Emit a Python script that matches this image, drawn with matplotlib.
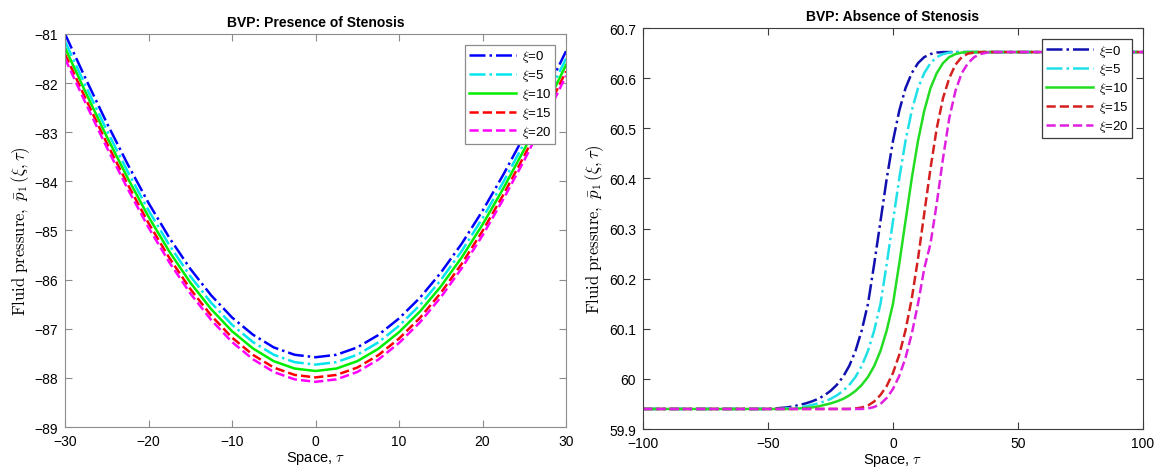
import matplotlib
matplotlib.use("Agg")
import matplotlib.pyplot as plt
from matplotlib.ticker import FormatStrFormatter, MultipleLocator

plt.rcParams["font.family"] = ["Liberation Sans", "DejaVu Sans"]
plt.rcParams["mathtext.fontset"] = "cm"

# left panel: presence of stenosis
tau_left = [-30, -27.5, -25, -22.5, -20, -17.5, -15, -12.5, -10, -7.5, -5, -2.5, 0,
            2.5, 5, 7.5, 10, 12.5, 15, 17.5, 20, 22.5, 25, 27.5, 30]
p_xi0 = [-81.00, -81.92, -82.81, -83.65, -84.44, -85.15, -85.78, -86.32, -86.77, -87.12, -87.38, -87.53, -87.58,
         -87.53, -87.38, -87.13, -86.79, -86.37, -85.86, -85.27, -84.60, -83.86, -83.07, -82.22, -81.35]
p_xi5 = [-81.15, -82.07, -82.96, -83.80, -84.59, -85.30, -85.93, -86.47, -86.92, -87.27, -87.53, -87.68, -87.73,
         -87.68, -87.53, -87.28, -86.94, -86.52, -86.01, -85.42, -84.75, -84.01, -83.22, -82.37, -81.50]
p_xi10 = [-81.28, -82.20, -83.09, -83.93, -84.72, -85.43, -86.06, -86.60, -87.05, -87.40, -87.66, -87.81, -87.86,
          -87.81, -87.66, -87.41, -87.07, -86.65, -86.14, -85.55, -84.88, -84.14, -83.35, -82.50, -81.63]
p_xi15 = [-81.41, -82.33, -83.22, -84.06, -84.85, -85.56, -86.19, -86.73, -87.18, -87.53, -87.79, -87.94, -87.99,
          -87.94, -87.79, -87.54, -87.20, -86.78, -86.27, -85.68, -85.01, -84.27, -83.48, -82.63, -81.76]
p_xi20 = [-81.50, -82.42, -83.31, -84.15, -84.94, -85.65, -86.28, -86.82, -87.27, -87.62, -87.88, -88.03, -88.08,
          -88.03, -87.88, -87.63, -87.29, -86.87, -86.36, -85.77, -85.10, -84.36, -83.57, -82.72, -81.85]

# right panel: absence of stenosis
tau_right = [-100,
             -50, -47.5, -45, -42.5, -40, -37.5, -35, -32.5, -30, -27.5,
             -25, -22.5, -20, -17.5, -15, -12.5, -10, -7.5, -5, -2.5,
             0, 2.5, 5, 7.5, 10, 12.5, 15, 17.5, 20, 22.5,
             25, 27.5, 30, 32.5, 35, 37.5, 40,
             100]
q_xi0 = [59.940,
         59.940, 59.941, 59.942, 59.943, 59.945, 59.948, 59.951, 59.955, 59.960, 59.967,
         59.976, 59.988, 60.004, 60.026, 60.056, 60.097, 60.150, 60.230, 60.315, 60.400,
         60.475, 60.535, 60.580, 60.610, 60.630, 60.642, 60.648, 60.651, 60.652, 60.652,
         60.652, 60.652, 60.652, 60.652, 60.652, 60.652, 60.652,
         60.652]
q_xi5 = [59.940,
         59.940, 59.940, 59.940, 59.941, 59.942, 59.943, 59.945, 59.948, 59.951, 59.955,
         59.960, 59.967, 59.976, 59.988, 60.004, 60.026, 60.056, 60.097, 60.150, 60.230,
         60.315, 60.400, 60.475, 60.535, 60.580, 60.610, 60.630, 60.642, 60.648, 60.651,
         60.652, 60.652, 60.652, 60.652, 60.652, 60.652, 60.652,
         60.652]
q_xi10 = [59.940,
          59.940, 59.940, 59.940, 59.940, 59.940, 59.941, 59.942, 59.943, 59.945, 59.948,
          59.951, 59.955, 59.960, 59.967, 59.976, 59.988, 60.004, 60.026, 60.056, 60.097,
          60.150, 60.230, 60.315, 60.400, 60.475, 60.535, 60.580, 60.610, 60.630, 60.642,
          60.648, 60.651, 60.652, 60.652, 60.652, 60.652, 60.652,
          60.652]
q_xi15 = [59.940,
          59.940, 59.940, 59.940, 59.940, 59.940, 59.940, 59.940, 59.940, 59.940, 59.940,
          59.940, 59.940, 59.940, 59.940, 59.941, 59.943, 59.947, 59.955, 59.968, 59.986,
          60.012, 60.048, 60.097, 60.160, 60.240, 60.330, 60.420, 60.500, 60.560, 60.600,
          60.627, 60.642, 60.649, 60.651, 60.652, 60.652, 60.652,
          60.652]
q_xi20 = [59.940,
          59.940, 59.940, 59.940, 59.940, 59.940, 59.940, 59.940, 59.940, 59.940, 59.940,
          59.940, 59.940, 59.940, 59.940, 59.940, 59.940, 59.941, 59.944, 59.950, 59.962,
          59.980, 60.006, 60.042, 60.090, 60.150, 60.220, 60.270, 60.350, 60.440, 60.520,
          60.575, 60.610, 60.630, 60.642, 60.648, 60.651, 60.652,
          60.652]

labels = [r"$\xi$=0", r"$\xi$=5", r"$\xi$=10", r"$\xi$=15", r"$\xi$=20"]
left_colors = ["#0000ff", "#00e5ee", "#00ee00", "#ff0000", "#ff00ff"]
right_colors = ["#1010b0", "#20e0e8", "#22dd22", "#d42020", "#e020e0"]
styles = ["-.", "-.", "-", "--", "--"]
ylabel = r"$\mathrm{Fluid\ pressure,}\ \bar{p}_1\,(\xi,\tau)$"

fig = plt.figure(figsize=(11.63, 4.77), dpi=100)
ax1 = fig.add_axes([0.0559, 0.1027, 0.4308, 0.824])
ax2 = fig.add_axes([0.5529, 0.0985, 0.4299, 0.8407])

for y, c, ls, lab in zip([p_xi0, p_xi5, p_xi10, p_xi15, p_xi20], left_colors, styles, labels):
    ax1.plot(tau_left, y, ls, color=c, lw=1.8, label=lab)
for y, c, ls, lab in zip([q_xi0, q_xi5, q_xi10, q_xi15, q_xi20], right_colors, styles, labels):
    ax2.plot(tau_right, y, ls, color=c, lw=1.8, label=lab)

ax1.set_xlim(-30, 30)
ax1.set_ylim(-89, -81)
ax1.xaxis.set_major_locator(MultipleLocator(10))
ax1.yaxis.set_major_locator(MultipleLocator(1))
ax1.set_title("BVP: Presence of Stenosis", fontsize=10, fontweight="bold", pad=6)

ax2.set_xlim(-100, 100)
ax2.set_ylim(59.9, 60.7)
ax2.xaxis.set_major_locator(MultipleLocator(50))
ax2.yaxis.set_major_locator(MultipleLocator(0.1))
ax2.yaxis.set_major_formatter(FormatStrFormatter("%g"))
ax2.set_title("BVP: Absence of Stenosis", fontsize=10, fontweight="bold", pad=6)

for ax, edge in [(ax1, "#8c8c8c"), (ax2, "#3c3c3c")]:
    ax.set_xlabel(r"Space, $\tau$", fontsize=10.5, labelpad=1)
    ax.set_ylabel(ylabel, fontsize=12, labelpad=2)
    ax.tick_params(direction="in", top=True, right=True, length=5, labelsize=10, color=edge, pad=5)
    for s in ax.spines.values():
        s.set_color(edge)
    leg = ax.legend(loc="upper right", fontsize=9.5, handlelength=3.6, frameon=True, fancybox=False,
                    framealpha=1, edgecolor=edge, borderpad=0.3, labelspacing=0.22, handletextpad=0.4,
                    borderaxespad=0.8)
    leg.get_frame().set_linewidth(0.9)

fig.savefig("out.png", dpi=100)
plt.close(fig)
